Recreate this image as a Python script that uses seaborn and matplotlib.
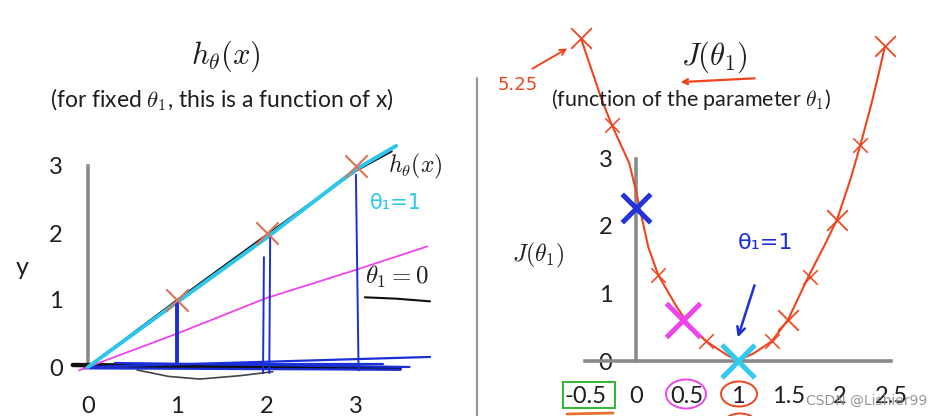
import matplotlib
matplotlib.use("Agg")
import matplotlib.pyplot as plt
from matplotlib.patches import Ellipse, Rectangle
import seaborn as sns

# ---- training set and hypothesis sketches (left panel) ----
x_train = [1, 2, 3]
y_train = [1, 2, 3]

h_black_x = [0, 1, 2, 3, 3.4]
h_black_y = [0, 1.0, 1.97, 2.93, 3.22]
h_cyan_x = [0, 1, 2, 3, 3.45]
h_cyan_y = [0, 0.97, 1.93, 2.95, 3.3]
h_half_x = [-0.1, 1, 2, 3, 3.8]
h_half_y = [-0.05, 0.5, 1.03, 1.45, 1.8]

# residual strokes drawn from the data points down to the axis
res_x = [[1.0, 1.0], [2.04, 2.03], [1.97, 1.96], [3.0, 3.03]]
res_y = [[0.97, 0.08], [1.94, -0.09], [1.64, -0.09], [2.87, -0.05]]

# strokes traced along y = 0
base_blue_x = [[0.0, 3.83], [0.5, 3.3], [-0.05, 3.5], [0.3, 3.6]]
base_blue_y = [[0.0, 0.15], [0.04, 0.04], [-0.02, -0.04], [0.06, 0.0]]
base_black_x = [-0.17, 3.49]
base_black_y = [0.03, -0.02]
arc_x = [0.55, 0.9, 1.25, 1.7, 2.07]
arc_y = [-0.045, -0.14, -0.18, -0.13, -0.07]

left_xticks = [0, 1, 2, 3]
left_yticks = [0, 1, 2, 3]

# ---- cost function J(theta_1) (right panel) ----
theta_curve = [-0.54, -0.336, -0.238, -0.066, 0.006, 0.04, 0.12, 0.219, 0.40,
               0.53, 0.69, 0.89, 1.00, 1.15, 1.33, 1.49, 1.69, 1.84, 1.97,
               2.10, 2.20, 2.31, 2.38, 2.44]
J_curve = [4.78, 3.87, 3.50, 2.93, 2.48, 2.24, 1.69, 1.27, 0.80,
           0.51, 0.29, 0.09, 0.01, 0.11, 0.29, 0.61, 1.25, 1.69, 2.09,
           2.68, 3.20, 3.82, 4.26, 4.66]

theta_small = [-0.238, 0.219, 0.69, 1.33, 1.71, 2.20]
J_small = [3.50, 1.27, 0.29, 0.29, 1.25, 3.20]
theta_big = [-0.54, 1.49, 1.97, 2.44]
J_big = [4.78, 0.61, 2.09, 4.66]

theta_hl = [0.0, 0.46, 1.0]
J_hl = [2.27, 0.61, 0.0]
hl_colors = ["#2233dd", "#ee44ee", "#33c8ee"]
hl_sizes = [420, 600, 560]

right_xticks = [-0.5, 0, 0.5, 1, 1.5, 2, 2.5]
right_xlabels = ["-0.5", "0", "0.5", "1", "1.5", "2", "2.5"]
right_yticks = [0, 1, 2, 3]

GRAY = "#8a8a8a"
RED = "#f0441e"
SALMON = "#dd7458"
BLUE = "#1a2fd8"
CYAN = "#2cc6ea"
MAGENTA = "#ee44ee"

sns.set_theme(style="white")
plt.rcParams["font.family"] = ["Lato", "DejaVu Sans"]
plt.rcParams["mathtext.fontset"] = "cm"

W, H = 939, 416
fig = plt.figure(figsize=(W / 100, H / 100), dpi=100)

# left panel: x=0 at px 88, 89.3 px/unit; y=0 at py 367, 67 px/unit
axL = fig.add_axes([0, 0, 470 / W, 1])
axL.set_xlim(-88 / 89.3, (470 - 88) / 89.3)
axL.set_ylim((367 - 416) / 67, 367 / 67)

# right panel: theta=0 at px 636, 102 px/unit; J=0 at py 361, 67.5 px/unit
axR = fig.add_axes([475 / W, 0, (W - 475) / W, 1])
axR.set_xlim((475 - 636) / 102, (939 - 636) / 102)
axR.set_ylim((361 - 416) / 67.5, 361 / 67.5)


def slide_axes(ax, xticks, xlabels, yticks, xbound, ybound, xpad, ypad):
    ax.set_facecolor("none")
    for s in ("top", "right"):
        ax.spines[s].set_visible(False)
    for s in ("left", "bottom"):
        ax.spines[s].set_position(("data", 0))
        ax.spines[s].set_color(GRAY)
        ax.spines[s].set_linewidth(2.6)
    ax.spines["left"].set_bounds(*ybound)
    ax.spines["bottom"].set_bounds(*xbound)
    ax.set_xticks(xticks, xlabels)
    ax.set_yticks(yticks, [str(v) for v in yticks])
    ax.tick_params(direction="inout", length=12, width=2.6, color=GRAY,
                   labelsize=17, labelcolor="#1e1e1e")
    ax.tick_params(axis="x", pad=xpad)
    ax.tick_params(axis="y", pad=ypad)
    ax.grid(False)


slide_axes(axL, left_xticks, [str(v) for v in left_xticks], left_yticks,
           (0, 3), (0, 3), 15, 12)
slide_axes(axR, right_xticks, right_xlabels, right_yticks,
           (-0.5, 2.5), (0, 3), 12, 11)


def line(ax, xs, ys, color, lw, z=3, alpha=1.0):
    sns.lineplot(x=xs, y=ys, sort=False, estimator=None, ax=ax, color=color,
                 linewidth=lw, legend=False, zorder=z, alpha=alpha)
    ax.lines[-1].set_clip_on(False)
    ax.lines[-1].set_solid_capstyle("round")


# ---- left panel drawing ----
line(axL, arc_x, arc_y, "#444444", 1.2)
line(axL, base_black_x, base_black_y, "#111111", 3.2)
for bx, by in zip(base_blue_x, base_blue_y):
    line(axL, bx, by, BLUE, 1.6)
line(axL, h_half_x, h_half_y, MAGENTA, 1.3)
line(axL, h_black_x, h_black_y, "#111111", 1.6)
line(axL, h_cyan_x, h_cyan_y, CYAN, 2.8)
for i, (rx, ry) in enumerate(zip(res_x, res_y)):
    line(axL, rx, ry, BLUE, 2.8 if i == 0 else 1.4)
sns.scatterplot(x=x_train, y=y_train, marker="x", s=260, linewidth=1.5,
                color=SALMON, ax=axL, zorder=5, legend=False)

axL.text(1.545, 4.64, r"$h_\theta(x)$", fontsize=22, ha="center", va="center",
         color="#1e1e1e")
axL.text(1.50, 3.99, r"(for fixed $\theta_1$, this is a function of x)",
         fontsize=16.5, ha="center", va="center", color="#1e1e1e",
         family=["Liberation Sans Narrow", "Lato"])
axL.text(-0.74, 1.48, "y", fontsize=18, ha="center", va="center",
         color="#1e1e1e")
axL.text(1.03, -0.80, "x", fontsize=16, ha="center", va="center",
         color="#1e1e1e", clip_on=False)
axL.text(3.36, 3.0, r"$h_\theta(x)$", fontsize=17, ha="left", va="center",
         color="#1e1e1e")
axL.text(3.16, 2.45, "θ₁=1", fontsize=15, ha="left", va="center", color=CYAN,
         family=["DejaVu Sans"])
axL.text(3.10, 1.34, r"$\theta_1 = 0$", fontsize=18, ha="left", va="center",
         color="#1e1e1e")
line(axL, [3.10, 3.45, 3.83], [1.04, 1.02, 0.98], "#111111", 1.5)

# ---- right panel drawing ----
line(axR, theta_curve, J_curve, RED, 1.5)
sns.scatterplot(x=theta_small, y=J_small, marker="x", s=110, linewidth=1.1,
                color=RED, ax=axR, zorder=5, legend=False)
sns.scatterplot(x=theta_big, y=J_big, marker="x", s=220, linewidth=1.3,
                color=RED, ax=axR, zorder=5, legend=False)
for t, j, c, s in zip(theta_hl, J_hl, hl_colors, hl_sizes):
    sns.scatterplot(x=[t], y=[j], marker="x", s=s, linewidth=3.6, color=c,
                    ax=axR, zorder=6, legend=False)
for coll in axR.collections:
    coll.set_clip_on(False)

axR.text(0.77, 4.5, r"$J(\theta_1)$", fontsize=22, ha="center", va="center",
         color="#1e1e1e")
axR.annotate("", xy=(0.41, 4.13), xytext=(1.19, 4.19),
             arrowprops=dict(arrowstyle="->", color=RED, lw=1.6,
                             mutation_scale=9))
axR.text(0.54, 3.87, r"(function of the parameter $\theta_1$)", fontsize=15.5,
         ha="center", va="center", color="#1e1e1e")
axR.text(-0.96, 1.57, r"$J(\theta_1)$", fontsize=17, ha="center", va="center",
         color="#1e1e1e")
axR.text(-1.16, 4.09, "5.25", fontsize=13, ha="center", va="center",
         color=RED, family=["DejaVu Sans"])
axR.annotate("", xy=(-0.65, 4.65), xytext=(-1.04, 4.31),
             arrowprops=dict(arrowstyle="->", color=RED, lw=1.4,
                             mutation_scale=10))
axR.text(1.27, 1.75, "θ₁=1", fontsize=16, ha="center", va="center",
         color=BLUE, family=["DejaVu Sans"])
axR.annotate("", xy=(0.99, 0.31), xytext=(1.17, 1.16),
             arrowprops=dict(arrowstyle="->", color=BLUE, lw=1.8,
                             mutation_scale=14))


# pixel positions of the hand-drawn marks, mapped to panel data units
def px(x):
    return (x - 636) / 102


def py(y):
    return (361 - y) / 67.5


axR.add_patch(Rectangle((px(563), py(408)), 52 / 102, 26 / 67.5, fill=False,
                        edgecolor="#2eb82e", lw=1.4, clip_on=False))
axR.add_patch(Ellipse((px(686), py(394)), 40 / 102, 29 / 67.5, fill=False,
                      edgecolor=MAGENTA, lw=1.4, clip_on=False))
axR.add_patch(Ellipse((px(739), py(394)), 36 / 102, 25 / 67.5, fill=False,
                      edgecolor=RED, lw=1.4, clip_on=False))
line(axR, [px(567), px(613)], [py(414), py(413)], "#e8702a", 2.0)
axR.add_patch(Ellipse((px(740), py(426)), 36 / 102, 25 / 67.5, fill=False,
                      edgecolor=RED, lw=1.4, clip_on=False))

# divider between the two panels
line(axR, [px(477), px(477)], [py(78), py(416)], "#9a9a9a", 1.6)

axR.text(px(806), py(401), "CSDN @Lishier99", fontsize=10, ha="left",
         va="center", color="#8c8c8c", alpha=0.9, family=["DejaVu Sans"],
         zorder=10)

fig.savefig("out.png", dpi=100)
